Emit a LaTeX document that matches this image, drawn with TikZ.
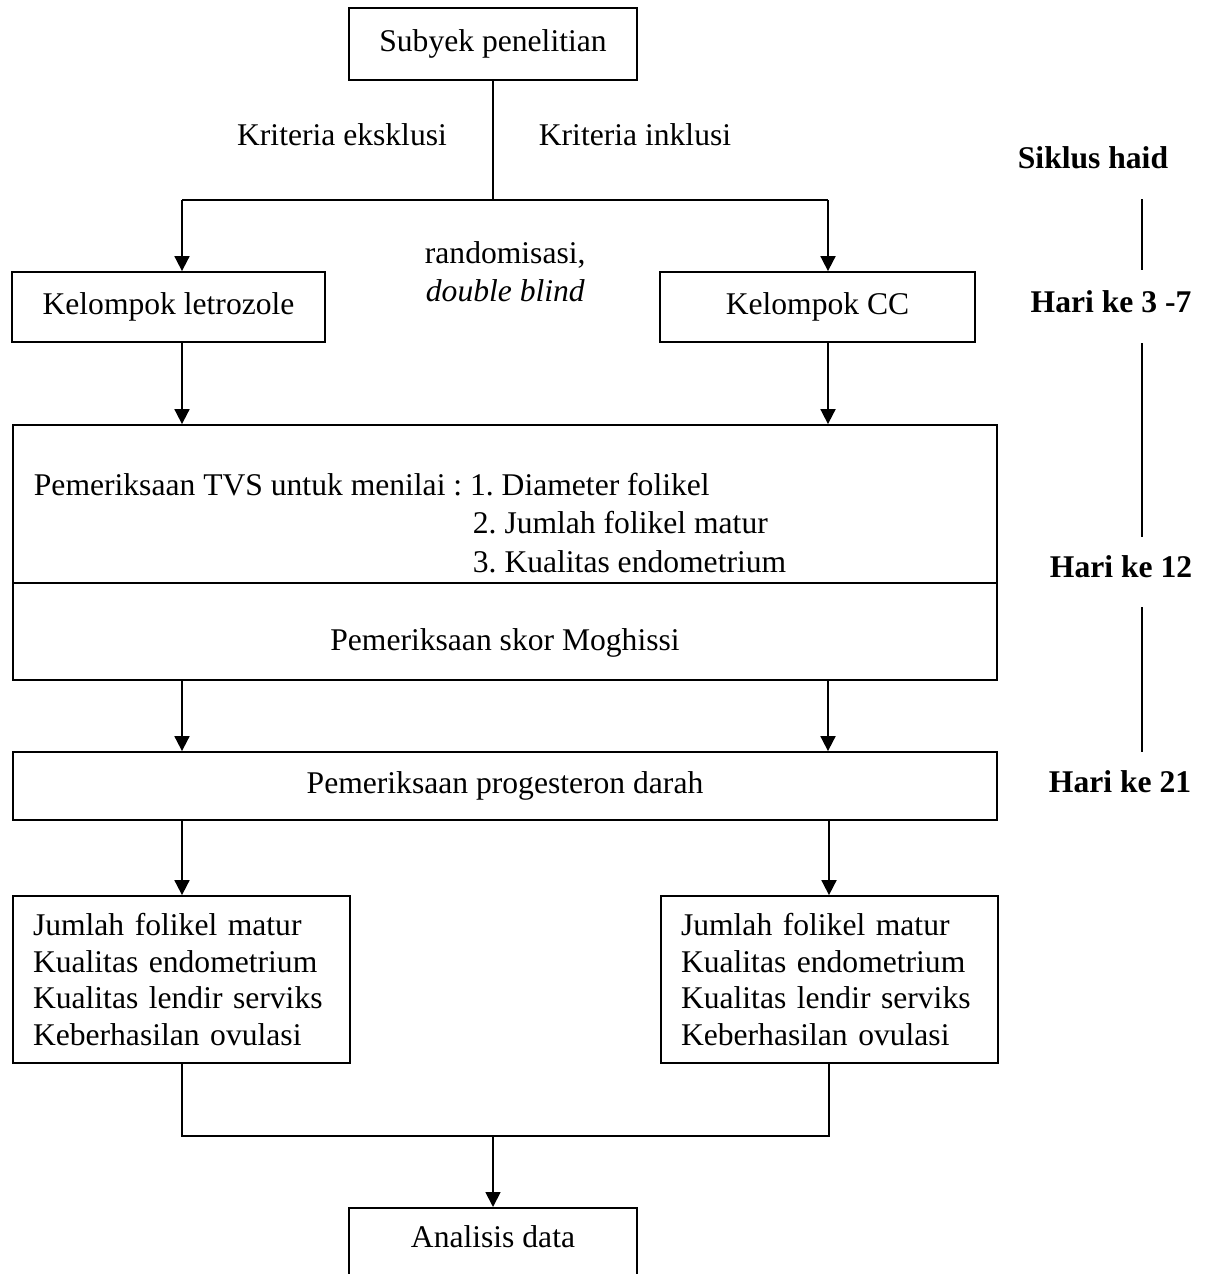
\documentclass[tikz,border=0pt]{standalone}
\usepackage{fontspec}
\setmainfont{Liberation Serif}
\usetikzlibrary{arrows.meta}
\begin{document}
\frenchspacing
\begin{tikzpicture}[x=1pt,y=-1pt,line width=1.8pt,
  every node/.style={font=\fontsize{31.6}{36.7}\selectfont,inner sep=0pt},
  box/.style={draw,rectangle,inner sep=0pt,align=center},
  arr/.style={-{Triangle[length=15pt,width=15pt]}},
  hd/.style={font=\fontsize{31.6}{36.7}\selectfont\bfseries,anchor=base}]
\clip (0,0) rectangle (1210,1274);
\useasboundingbox (0,0) rectangle (1210,1274);
% boxes
\node[box,minimum width=288pt,minimum height=72pt] (subyek) at (493,44) {Subyek penelitian};
\node[box,minimum width=313pt,minimum height=70pt] (letro) at (168.5,307) {Kelompok letrozole};
\node[box,minimum width=315pt,minimum height=70pt] (cc) at (817.5,307) {Kelompok CC};
\node[box,minimum width=984pt,minimum height=158pt] (tvs) at (505,504) {};
\node[box,minimum width=984pt,minimum height=97pt] (mog) at (505,631.5) {};
\node[box,minimum width=984pt,minimum height=68pt] (prog) at (505,786) {Pemeriksaan progesteron darah};
\node[box,minimum width=337pt,minimum height=167pt,text width=297pt,align=left] (hl) at (181.5,979.5)
  {Jumlah folikel matur\\Kualitas endometrium\\Kualitas lendir serviks\\Keberhasilan ovulasi};
\node[box,minimum width=337pt,minimum height=167pt,text width=297pt,align=left] (hr) at (829.5,979.5)
  {Jumlah folikel matur\\Kualitas endometrium\\Kualitas lendir serviks\\Keberhasilan ovulasi};
\node[box,minimum width=288pt,anchor=north,inner ysep=18pt,text height=22pt,text depth=80pt] (ana) at (493,1207) {Analisis data};
% texts
\node[anchor=base] (eks) at (342,145) {Kriteria eksklusi};
\node[anchor=base] (ink) at (635,145) {Kriteria inklusi};
\node[anchor=base west] (rand) at (424,263) {randomisasi,};
\node[anchor=base west] (dbl) at (425,301) {\itshape double blind};
\node[anchor=base west] (tvs1) at (33,495) {Pemeriksaan TVS untuk menilai : 1. Diameter folikel};
\node[anchor=base west] (tvs2) at (472,533) {2. Jumlah folikel matur};
\node[anchor=base west] (tvs3) at (472,572) {3. Kualitas endometrium};
\node[anchor=base] (mogt) at (505,650) {Pemeriksaan skor Moghissi};
% right column
\node[hd] (siklus) at (1093,168) {Siklus haid};
\node[hd] (h37) at (1111,312) {Hari ke 3 -7};
\node[hd] (h12) at (1121,577) {Hari ke 12};
\node[hd] (h21) at (1120,792) {Hari ke 21};
\coordinate (c1a) at (1142,199); \coordinate (c1b) at (1142,270);
\coordinate (c2a) at (1142,343); \coordinate (c2b) at (1142,537);
\coordinate (c3a) at (1142,607); \coordinate (c3b) at (1142,752);
\draw (c1a) -- (c1b);
\draw (c2a) -- (c2b);
\draw (c3a) -- (c3b);
% connectors
\coordinate (sp) at (493,200);
\coordinate (sl) at (182,200);
\coordinate (sr) at (828,200);
\coordinate (bl) at (182,1136);
\coordinate (br) at (829,1136);
\coordinate (jm) at (493,1136);
\draw (subyek.south) -- (sp);
\draw (sl) -- (sr);
\draw[arr] (sl) -- (sl |- letro.north);
\draw[arr] (sr) -- (sr |- cc.north);
\draw[arr] (letro.south -| sl) -- (tvs.north -| sl);
\draw[arr] (cc.south -| sr) -- (tvs.north -| sr);
\draw[arr] (mog.south -| sl) -- (prog.north -| sl);
\draw[arr] (mog.south -| sr) -- (prog.north -| sr);
\draw[arr] (prog.south -| bl) -- (hl.north -| bl);
\draw[arr] (prog.south -| br) -- (hr.north -| br);
\draw (hl.south -| bl) -- (bl) -- (br) -- (hr.south -| br);
\draw[arr] (jm) -- (ana.north);
\end{tikzpicture}
\end{document}
